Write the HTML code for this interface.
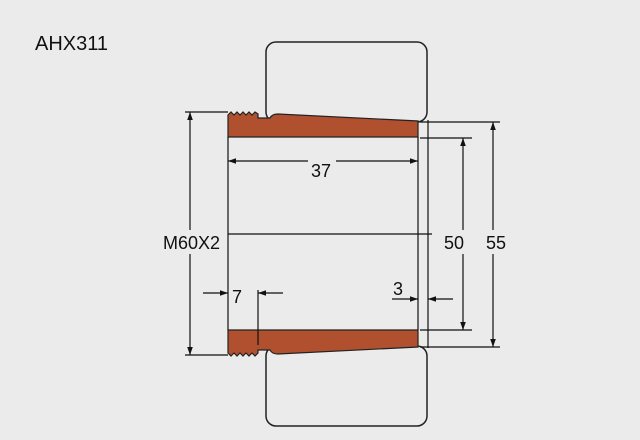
<!DOCTYPE html>
<html><head><style>
body{margin:0;background:#ebebeb;}
svg{display:block;font-family:"Liberation Sans",sans-serif;}
</style></head><body>
<svg width="640" height="440" viewBox="0 0 640 440">
<defs>
<marker id="a" viewBox="0 0 10 10" refX="10" refY="5" markerWidth="8" markerHeight="8" orient="auto-start-reverse" markerUnits="userSpaceOnUse"><path d="M0,1.5 L10,5 L0,8.5 Z" fill="#111"/></marker>
</defs>
<rect width="640" height="440" fill="#ebebeb"/>
<text x="35" y="50" font-size="20" fill="#111">AHX311</text>
<!-- bearing rings -->
<rect x="266" y="42" width="161" height="80" rx="10" fill="#ebebeb" stroke="#222" stroke-width="1.5"/>
<rect x="266" y="346" width="161" height="80" rx="10" fill="#ebebeb" stroke="#222" stroke-width="1.5"/>
<!-- sleeves -->
<path d="M228,115 L231,112 L234,115 L237,112 L240,115 L243,112 L246,115 L249,112 L252,115 L255,112 L258,114 L258,118 L270,118 Q272,114 278,114 L418,121 L418,137 L228,137 Z" fill="#b0502f" stroke="#222" stroke-width="1.2"/>
<path d="M228,330 L418,330 L418,347 L278,354 Q272,354 270,350 L258,350 L258,353 L255,356 L252,353 L249,356 L246,353 L243,356 L240,353 L237,356 L234,353 L231,356 L228,353 Z" fill="#b0502f" stroke="#222" stroke-width="1.2"/>
<g stroke="#111" stroke-width="1.2" fill="none">
<line x1="228" y1="137" x2="228" y2="330"/>
<line x1="418" y1="137" x2="418" y2="330"/>
<line x1="428" y1="120" x2="428" y2="348"/>
<line x1="228" y1="234" x2="432" y2="234"/>
<line x1="185" y1="112" x2="228" y2="112"/>
<line x1="185" y1="355" x2="228" y2="355"/>
<line x1="190" y1="112" x2="190" y2="355" marker-start="url(#a)" marker-end="url(#a)"/>
<line x1="228" y1="161" x2="418" y2="161" marker-start="url(#a)" marker-end="url(#a)"/>
<line x1="420" y1="138" x2="472" y2="138"/>
<line x1="420" y1="330" x2="472" y2="330"/>
<line x1="463" y1="138" x2="463" y2="330" marker-start="url(#a)" marker-end="url(#a)"/>
<line x1="420" y1="122" x2="500" y2="122"/>
<line x1="420" y1="347" x2="500" y2="347"/>
<line x1="493" y1="122" x2="493" y2="347" marker-start="url(#a)" marker-end="url(#a)"/>
<line x1="258" y1="290" x2="258" y2="345"/>
<line x1="203" y1="293" x2="228" y2="293" marker-end="url(#a)"/>
<line x1="283" y1="293" x2="258" y2="293" marker-end="url(#a)"/>
<line x1="392" y1="299" x2="418" y2="299" marker-end="url(#a)"/>
<line x1="453" y1="299" x2="428" y2="299" marker-end="url(#a)"/>
</g>
<rect x="163" y="230" width="64" height="24" fill="#ebebeb"/>
<text x="163" y="249" font-size="18" fill="#111">M60X2</text>
<rect x="308" y="158" width="28" height="22" fill="#ebebeb"/>
<text x="311" y="177" font-size="18" fill="#111">37</text>
<rect x="443" y="230" width="28" height="24" fill="#ebebeb"/>
<text x="444" y="249" font-size="18" fill="#111">50</text>
<rect x="484" y="230" width="26" height="24" fill="#ebebeb"/>
<text x="486" y="249" font-size="18" fill="#111">55</text>
<text x="232" y="303" font-size="18" fill="#111">7</text>
<text x="393" y="295" font-size="18" fill="#111">3</text>
</svg>
</body></html>
